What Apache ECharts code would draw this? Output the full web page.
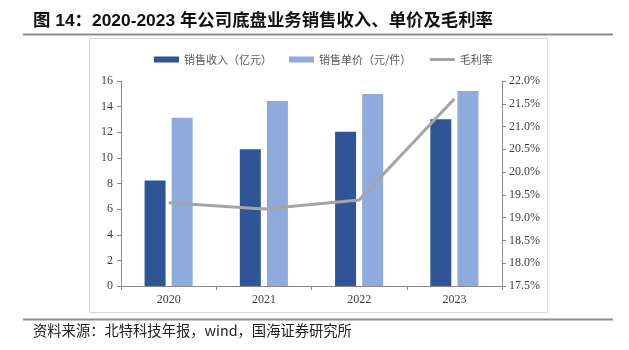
<!DOCTYPE html>
<html>
<head>
<meta charset="utf-8">
<script src="https://cdn.jsdelivr.net/npm/echarts@6/dist/echarts.min.js"></script>
<style>
html,body{margin:0;padding:0;background:#fff;}
#c{width:629px;height:350px;}
</style>
</head>
<body>
<div id="c"></div>
<script>
const categories = ['2020', '2021', '2022', '2023'];
const revenue = [8.23, 10.68, 12.03, 13.02];
const unitPrice = [13.13, 14.43, 14.98, 15.21];
const grossMargin = [19.33, 19.19, 19.39, 21.61];
const seriesNames = ['销售收入（亿元）', '销售单价（元/件）', '毛利率'];
const titleText = '图 14：2020-2023 年公司底盘业务销售收入、单价及毛利率';
const sourceText = '资料来源：北特科技年报，wind，国海证券研究所';

const chart = echarts.init(document.getElementById('c'), null, {renderer: 'canvas'});
const axisColor = '#898989';
const labelColor = '#404040';
const serif = '"Liberation Serif", "Times New Roman", serif';
const cjk = '"Noto Sans CJK SC", sans-serif';

chart.setOption({
  animation: false,
  backgroundColor: '#fff',
  graphic: [
    {type: 'text', left: 33, top: 13, style: {text: titleText, font: 'bold 17.4px "Liberation Sans", "Noto Sans CJK SC", sans-serif', fill: '#111'}},
    {type: 'line', shape: {x1: 23, y1: 34.5, x2: 613, y2: 34.5}, style: {stroke: '#8c8c8c', lineWidth: 2}},
    {type: 'rect', shape: {x: 89.5, y: 38.5, width: 458, height: 274}, style: {stroke: '#d9d9d9', fill: null, lineWidth: 1}, z: -1},
    {type: 'line', shape: {x1: 23, y1: 319.5, x2: 613, y2: 319.5}, style: {stroke: '#8c8c8c', lineWidth: 2}},
    {type: 'text', left: 33, top: 323, style: {text: sourceText, font: '14.3px "Noto Sans CJK SC", "Liberation Sans", sans-serif', fill: '#222'}}
  ],
  legend: {
    left: 149,
    top: 49,
    itemGap: 17,
    itemWidth: 25,
    itemHeight: 6,
    textStyle: {fontSize: 11, color: '#595959', fontFamily: cjk},
    data: [
      {name: seriesNames[0], icon: 'rect'},
      {name: seriesNames[1], icon: 'rect'},
      {name: seriesNames[2], itemStyle: {opacity: 0}, lineStyle: {color: '#A5A5A5', width: 3, opacity: 1}}
    ]
  },
  grid: {left: 121, right: 127, top: 81, bottom: 64, containLabel: false},
  xAxis: {
    type: 'category',
    data: categories,
    axisLine: {lineStyle: {color: axisColor, width: 1}},
    axisTick: {show: true, length: 4, alignWithLabel: false, lineStyle: {color: axisColor}},
    axisLabel: {color: labelColor, fontFamily: serif, fontSize: 12, margin: 8}
  },
  yAxis: [
    {
      type: 'value', min: 0, max: 16, interval: 2,
      axisLine: {show: true, lineStyle: {color: axisColor}},
      axisTick: {show: true, length: 4, lineStyle: {color: axisColor}},
      axisLabel: {color: labelColor, fontFamily: serif, fontSize: 12, margin: 8},
      splitLine: {show: false}
    },
    {
      type: 'value', min: 17.5, max: 22, interval: 0.5, position: 'right',
      axisLine: {show: true, lineStyle: {color: axisColor}},
      axisTick: {show: true, length: 4, lineStyle: {color: axisColor}},
      axisLabel: {color: labelColor, fontFamily: serif, fontSize: 12, margin: 7,
        formatter: v => v.toFixed(1) + '%'},
      splitLine: {show: false}
    }
  ],
  series: [
    {name: seriesNames[0], type: 'bar', data: revenue, barWidth: 21, barGap: '29%',
      itemStyle: {color: '#2F5597'}},
    {name: seriesNames[1], type: 'bar', data: unitPrice, barWidth: 21,
      itemStyle: {color: '#8FAADC'}},
    {name: seriesNames[2], type: 'line', yAxisIndex: 1, data: grossMargin,
      symbol: 'none', lineStyle: {color: '#A5A5A5', width: 3}, itemStyle: {color: '#A5A5A5'}, z: 5}
  ]
});
</script>
</body>
</html>
